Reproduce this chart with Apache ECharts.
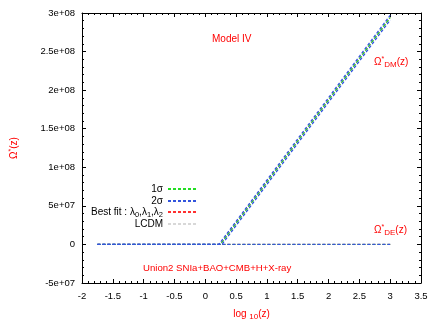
<!DOCTYPE html>
<html>
<head>
<meta charset="utf-8">
<script src="https://cdn.jsdelivr.net/npm/echarts@6/dist/echarts.min.js"></script>
<style>
  html, body { margin: 0; padding: 0; background: #fff; }
  #chart { width: 436px; height: 327px; }
</style>
</head>
<body>
<div id="chart"></div>
<script>
// x = log10(z), y = Omega*(z)
const xTicks = [-2, -1.5, -1, -0.5, 0, 0.5, 1, 1.5, 2, 2.5, 3, 3.5]
const yTicks = [-5e7, 0, 5e7, 1e8, 1.5e8, 2e8, 2.5e8, 3e8]

// dark matter curves
const dmLcdm = [[-1.75, 0], [0.24, 0], [3.0, 2.94e8]]
const dmBest = [[-1.75, 0], [0.24, 0], [3.0, 2.94e8]]
const dm1sUp = [[-1.75, 0], [0.24, 0], [3.0, 2.945e8]]
const dm1sLo = [[-1.75, 0], [0.25, 0], [3.0, 2.935e8]]
const dm2sUp = [[-1.75, 0], [0.22, 0], [3.0, 2.97e8]]
const dm2sLo = [[-1.75, 0], [0.27, 0], [3.0, 2.91e8]]
// dark energy curves
const deLine = [[-1.75, 0], [3.0, 0]]

const red = '#ff0000'
const font = 'Liberation Sans'

const chart = echarts.init(document.getElementById('chart'))

function line(name, data, color, width) {
  return {
    name: name,
    type: 'line',
    data: data,
    symbol: 'none',
    silent: true,
    animation: false,
    lineStyle: { color: color, width: width, type: [3, 2] },
    itemStyle: { color: color }
  }
}

function legendRow(name, top) {
  return {
    data: [name],
    right: 239,
    top: top,
    padding: 0,
    align: 'right',
    itemWidth: 28,
    itemHeight: 8,
    selectedMode: false,
    itemStyle: { opacity: 0 },
    textStyle: {
      fontFamily: font,
      fontSize: 10,
      color: '#000',
      rich: {
        s: { fontFamily: font, fontSize: 7.5, color: '#000', padding: [5, 0, 0, 0] }
      }
    },
    formatter: function (n) {
      return n === 'Best fit' ? 'Best fit : λ{s|0},λ{s|1},λ{s|2}' : n
    }
  }
}

function sci(v) {
  if (v === 0) return '0'
  const s = v.toExponential().split('e')
  const sign = s[1][0]
  let e = s[1].slice(1)
  if (e.length < 2) e = '0' + e
  return s[0] + 'e' + sign + e
}

const tickStyle = { inside: true, length: 4, lineStyle: { color: '#000', width: 1 } }
const minorStyle = { show: true, splitNumber: 5, length: 2, lineStyle: { color: '#000', width: 1 } }

chart.setOption({
  animation: false,
  grid: { left: 82, right: 15, top: 13, bottom: 44 },
  legend: [
    legendRow('1σ', 184),
    legendRow('2σ', 196),
    legendRow('Best fit', 207),
    legendRow('LCDM', 219)
  ],
  xAxis: [
    {
      type: 'value',
      min: xTicks[0],
      max: xTicks[xTicks.length - 1],
      interval: 0.5,
      axisLine: { onZero: false, lineStyle: { color: '#000', width: 1 } },
      axisTick: tickStyle,
      minorTick: minorStyle,
      splitLine: { show: false },
      axisLabel: { fontFamily: font, fontSize: 9.5, color: '#000', margin: 8 },
      name: '{a|log }{s|10}{a|(z)}',
      nameLocation: 'middle',
      nameGap: 25,
      nameTextStyle: {
        rich: {
          a: { fontFamily: font, fontSize: 10, color: red },
          s: { fontFamily: font, fontSize: 8, color: red, padding: [5, 0, 0, 0] }
        }
      }
    },
    {
      type: 'value',
      position: 'top',
      min: xTicks[0],
      max: xTicks[xTicks.length - 1],
      interval: 0.5,
      axisLine: { onZero: false, lineStyle: { color: '#000', width: 1 } },
      axisTick: tickStyle,
      minorTick: minorStyle,
      splitLine: { show: false },
      axisLabel: { show: false }
    }
  ],
  yAxis: [
    {
      type: 'value',
      min: yTicks[0],
      max: yTicks[yTicks.length - 1],
      interval: 5e7,
      axisLine: { onZero: false, lineStyle: { color: '#000', width: 1 } },
      axisTick: tickStyle,
      minorTick: minorStyle,
      splitLine: { show: false },
      axisLabel: { fontFamily: font, fontSize: 9.5, color: '#000', margin: 7, formatter: sci },
      name: '{a|Ω}{s|*}{a|(z)}',
      nameLocation: 'middle',
      nameGap: 62,
      nameRotate: 90,
      nameTextStyle: {
        rich: {
          a: { fontFamily: font, fontSize: 10, color: red },
          s: { fontFamily: font, fontSize: 7, color: red, padding: [0, 0, 5, 0] }
        }
      }
    },
    {
      type: 'value',
      position: 'right',
      min: yTicks[0],
      max: yTicks[yTicks.length - 1],
      interval: 5e7,
      axisLine: { onZero: false, lineStyle: { color: '#000', width: 1 } },
      axisTick: tickStyle,
      minorTick: minorStyle,
      splitLine: { show: false },
      axisLabel: { show: false }
    }
  ],
  graphic: [
    {
      type: 'text', left: 212, top: 34,
      style: { text: 'Model IV', fill: red, font: '10px ' + font }
    },
    {
      type: 'text', left: 143, top: 263,
      style: { text: 'Union2 SNIa+BAO+CMB+H+X-ray', fill: red, font: '9.6px ' + font }
    },
    {
      type: 'text', left: 374, top: 56,
      style: {
        text: '{a|Ω}{s|*}{b|DM}{a|(z)}',
        rich: {
          a: { fontFamily: font, fontSize: 10, fill: red },
          s: { fontFamily: font, fontSize: 7, fill: red, padding: [0, 0, 5, 0] },
          b: { fontFamily: font, fontSize: 8, fill: red, padding: [5, 0, 0, 0] }
        }
      }
    },
    {
      type: 'text', left: 374, top: 224,
      style: {
        text: '{a|Ω}{s|*}{b|DE}{a|(z)}',
        rich: {
          a: { fontFamily: font, fontSize: 10, fill: red },
          s: { fontFamily: font, fontSize: 7, fill: red, padding: [0, 0, 5, 0] },
          b: { fontFamily: font, fontSize: 8, fill: red, padding: [5, 0, 0, 0] }
        }
      }
    }
  ],
  series: [
    line('LCDM', dmLcdm, '#d8d8d8', 1),
    line('LCDM', deLine, '#d8d8d8', 1),
    line('Best fit', dmBest, '#ff3030', 1),
    line('Best fit', deLine, '#ff3030', 1),
    line('1σ', dm1sUp, '#22dd22', 1),
    line('1σ', dm1sLo, '#22dd22', 1),
    line('1σ', deLine, '#22dd22', 1),
    line('2σ', dm2sUp, '#3355dd', 1.3),
    line('2σ', dm2sLo, '#3355dd', 1.3),
    line('2σ', deLine, '#3355dd', 1.3)
  ]
})
</script>
</body>
</html>
